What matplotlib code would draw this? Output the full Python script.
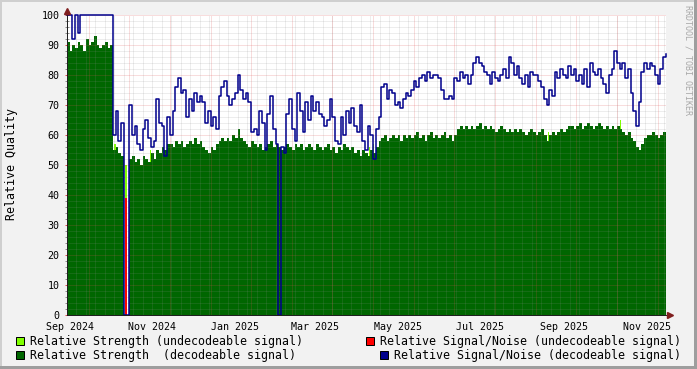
import matplotlib
matplotlib.use('Agg')
import matplotlib.pyplot as plt
import matplotlib.dates as mdates
from matplotlib.patches import Rectangle
import numpy as np
from datetime import datetime

plt.rcParams['font.family'] = ['DejaVu Sans Mono']

# one sample every 2 days, first sample at 2024-08-30
first_day = datetime(2024, 8, 30)
step_days = 2

# Relative Strength (decodeable signal)
strength_dec = [
    91, 88, 90, 89, 91, 90, 88, 92, 90, 91,
    93, 90, 89, 90, 91, 89, 90, 55, 56, 54,
    53, 0, 0, 52, 53, 51, 52, 50, 53, 52,
    51, 54, 52, 55, 54, 56, 55, 57, 57, 56,
    58, 57, 58, 56, 57, 58, 57, 59, 57, 58,
    56, 55, 54, 56, 55, 57, 58, 59, 58, 59,
    58, 60, 59, 62, 59, 58, 57, 56, 58, 57,
    56, 57, 55, 56, 57, 58, 56, 57, 56, 55,
    56, 57, 56, 55, 57, 56, 57, 55, 56, 57,
    56, 55, 57, 56, 55, 56, 57, 55, 56, 54,
    56, 55, 57, 56, 55, 56, 54, 55, 53, 55,
    54, 53, 55, 54, 56, 58, 59, 60, 58, 59,
    60, 59, 60, 58, 60, 59, 60, 59, 60, 61,
    59, 60, 58, 60, 61, 59, 60, 59, 60, 61,
    59, 60, 58, 60, 62, 63, 62, 63, 62, 63,
    62, 63, 64, 62, 63, 62, 63, 62, 61, 62,
    63, 62, 61, 62, 61, 62, 61, 62, 61, 60,
    61, 62, 61, 60, 61, 62, 60, 58, 60, 61,
    60, 61, 62, 61, 62, 63, 63, 62, 63, 64,
    62, 63, 64, 63, 62, 63, 64, 63, 62, 63,
    62, 63, 62, 63, 62, 61, 60, 61, 59, 58,
    56, 55, 57, 59, 60, 60, 61, 60, 59, 60,
    61, 62,
]

# Relative Signal/Noise (decodeable signal)
snr_dec = [
    100, 100, 92, 100, 94, 100, 100, 100, 100, 100,
    100, 100, 100, 100, 100, 100, 100, 60, 68, 58,
    64, 0, 0, 70, 60, 63, 57, 55, 62, 65,
    59, 56, 58, 72, 64, 63, 53, 66, 60, 68,
    76, 79, 74, 75, 66, 72, 68, 74, 71, 73,
    71, 64, 68, 63, 66, 62, 73, 76, 78, 73,
    70, 72, 74, 80, 75, 72, 74, 71, 61, 62,
    60, 68, 64, 55, 67, 73, 62, 57, 0, 56,
    54, 67, 72, 62, 58, 74, 68, 61, 71, 65,
    73, 68, 71, 67, 66, 63, 65, 72, 66, 58,
    57, 66, 60, 68, 64, 69, 63, 61, 70, 58,
    55, 63, 60, 52, 62, 66, 76, 77, 72, 75,
    74, 70, 71, 69, 72, 74, 73, 75, 78, 76,
    79, 80, 78, 81, 79, 80, 80, 79, 75, 72,
    72, 73, 72, 79, 78, 81, 79, 80, 77, 80,
    84, 86, 84, 83, 81, 80, 77, 81, 79, 78,
    80, 82, 79, 86, 84, 80, 83, 79, 77, 80,
    76, 81, 80, 80, 78, 76, 72, 70, 75, 73,
    81, 79, 82, 80, 79, 83, 80, 82, 78, 80,
    77, 82, 76, 84, 81, 80, 82, 79, 77, 74,
    80, 82, 88, 84, 82, 84, 79, 82, 74, 68,
    63, 71, 81, 84, 82, 84, 83, 80, 77, 82,
    86, 87,
]

# undecodeable signal, only a few days
undec_strength_dates = ['2024-10-04', '2024-10-12', '2024-10-30', '2025-04-10',
                        '2025-04-13', '2025-08-20', '2025-10-12']
undec_strength = [57, 50, 55, 56, 57, 61, 65]
undec_snr_dates = ['2024-10-12']
undec_snr = [39]

label_months = ['2024-09-01', '2024-11-01', '2025-01-01', '2025-03-01',
                '2025-05-01', '2025-07-01', '2025-09-01', '2025-11-01']

legend_rows = [
    ('#80FF00', 'Relative Strength (undecodeable signal)',
     '#FF0000', 'Relative Signal/Noise (undecodeable signal)'),
    ('#006600', 'Relative Strength  (decodeable signal)',
     '#00008C', 'Relative Signal/Noise (decodeable signal)'),
]

W, H = 697, 369
fig = plt.figure(figsize=(W / 100, H / 100), dpi=100, facecolor='#F2F2F2')


def fx(px):
    return px / W


def fy(py):
    return 1 - py / H


def band(x0, y0, x1, y1, color):
    fig.add_artist(Rectangle((fx(x0), fy(y1)), fx(x1) - fx(x0), fy(y0) - fy(y1),
                             transform=fig.transFigure, color=color, lw=0))


# shaded image border
band(0, 0, 697, 2, '#CFCFCF')
band(0, 0, 2, 369, '#CFCFCF')
band(694, 0, 697, 369, '#9E9E9E')
band(0, 366, 697, 369, '#9E9E9E')

ax = fig.add_axes([fx(67), fy(315), fx(666) - fx(67), fy(15) - fy(315)])
ax.set_facecolor('white')

t0 = mdates.date2num(first_day)
x = t0 + step_days * np.arange(len(strength_dec))
us_x = mdates.datestr2num(undec_strength_dates)
un_x = mdates.datestr2num(undec_snr_dates)

ax.bar(us_x, undec_strength, width=1.0, align='edge', color='#80FF00', lw=0, zorder=1)
ax.fill_between(x, strength_dec, step='post', color='#006600', lw=0, zorder=2)
ax.vlines(un_x + 0.3, 0, undec_snr, color='#FF0000', lw=1.4, zorder=3)
ax.plot(x, snr_dec, drawstyle='steps-post', color='#00008C', lw=1.1,
        zorder=4, clip_on=False)

# x range: Sep 1 2024 sits at pixel ~69.6, 1.355 px per day
day0 = mdates.date2num(datetime(2024, 9, 1))
x_left = day0 - 2.6 / 1.355
x_right = x_left + 599 / 1.355
ax.set_xlim(x_left, x_right)
ax.set_ylim(0, 100)

# grid (drawn above the areas like rrdtool)
grid_c = (0.56, 0.56, 0.56, 0.32)
mgrid_c = (0.87, 0.31, 0.31, 0.38)
dots = (0, (1, 1))
for v in range(2, 101, 2):
    if v % 10:
        ax.axhline(v, color=grid_c, lw=0.72, ls=dots, zorder=2.5)
    else:
        ax.axhline(v, color=mgrid_c, lw=0.72, ls=dots, zorder=2.5)
for d in np.arange(t0, x_right, 7):
    ax.axvline(d, color=grid_c, lw=0.72, ls=dots, zorder=2.5)
for d in np.arange(mdates.date2num(datetime(2024, 9, 15)), x_right, 30):
    ax.axvline(d, color=mgrid_c, lw=0.72, ls=dots, zorder=2.5)

ax.set_yticks(range(0, 101, 10))
ax.set_yticks(range(0, 101, 2), minor=True)
ax.tick_params(axis='y', which='major', length=3, width=0.72, direction='inout',
               color=(0.87, 0.31, 0.31), labelsize=7.2, pad=4)
ax.tick_params(axis='y', which='minor', length=2.5, width=0.72, direction='inout',
               color=(0.56, 0.56, 0.56))
ax.set_xticks(mdates.datestr2num(label_months))
ax.xaxis.set_major_formatter(mdates.DateFormatter('%b %Y'))
ax.tick_params(axis='x', which='major', length=0, labelsize=7.2, pad=5)

for s in ['top', 'right']:
    ax.spines[s].set_visible(False)
for s in ['left', 'bottom']:
    ax.spines[s].set_color('#1F1F1F')
    ax.spines[s].set_linewidth(0.72)
    ax.spines[s].set_zorder(5)

# axis arrows
ax.plot([0, 0], [1, 1 + 6 / 300], transform=ax.transAxes, color='#1F1F1F',
        lw=0.72, clip_on=False)
ax.plot([0], [1 + 4 / 300], transform=ax.transAxes, marker='^', ms=5,
        color='#801F1F', clip_on=False, zorder=6)
ax.plot([1, 1 + 6 / 599], [0, 0], transform=ax.transAxes, color='#1F1F1F',
        lw=0.72, clip_on=False)
ax.plot([1 + 4 / 599], [0], transform=ax.transAxes, marker='>', ms=5,
        color='#801F1F', clip_on=False, zorder=6)

fig.text(fx(12), fy(164), 'Relative Quality', rotation=90, ha='center',
         va='center', fontsize=8.4)
fig.text(fx(688), fy(5), 'RRDTOOL / TOBI OETIKER', rotation=-90, ha='center',
         va='top', fontsize=6, color='#A8A8A8')

# legend
for row, (c1, t1, c2, t2) in enumerate(legend_rows):
    yc = 341 + 14 * row
    box2 = 366 if row == 0 else 380
    for bx, c in [(16, c1), (box2, c2)]:
        fig.add_artist(Rectangle((fx(bx), fy(yc + 4)), 8 / W, 8 / H,
                                 transform=fig.transFigure, facecolor=c,
                                 edgecolor='black', lw=0.72))
    fig.text(fx(30), fy(yc), t1, ha='left', va='center', fontsize=8.4)
    fig.text(fx(681), fy(yc), t2, ha='right', va='center', fontsize=8.4)

fig.savefig('out.png', dpi=100, facecolor=fig.get_facecolor())
